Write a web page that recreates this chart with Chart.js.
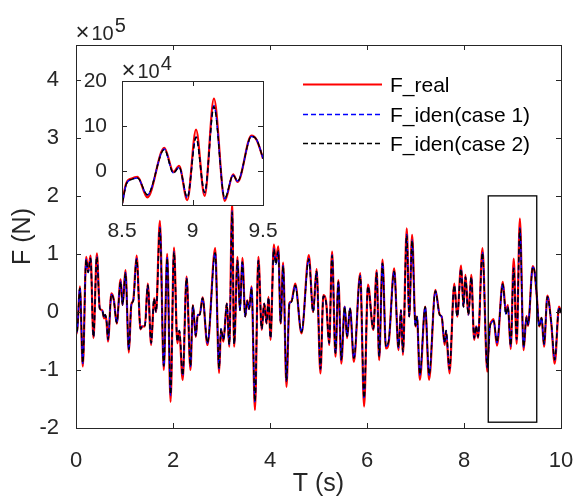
<!DOCTYPE html>
<html>
<head>
<meta charset="utf-8">
<script src="https://cdn.jsdelivr.net/npm/chart.js@4.4.0/dist/chart.umd.min.js"></script>
<style>
    body { margin: 0; background: #fff; }
    #wrap { position: relative; width: 576px; height: 497px; }
    #main { position: absolute; left: 0; top: 0; }
    #zoom { position: absolute; left: 80px; top: 50px; }
</style>
</head>
<body>
<div id="wrap">
    <canvas id="main" width="576" height="497"></canvas>
    <canvas id="zoom" width="200" height="190"></canvas>
</div>
<script>
// Tiempo (s)
const tiempo = [
    0.00, 0.02, 0.08, 0.14, 0.21, 0.25, 0.30, 0.36, 0.43, 0.49, 0.54, 0.58, 0.60, 0.63, 0.66, 0.73, 0.78, 0.84, 0.92, 0.96,
    1.02, 1.09, 1.14, 1.18, 1.25, 1.33, 1.37, 1.42, 1.48, 1.55, 1.61, 1.65, 1.73, 1.81, 1.88, 1.95, 2.02, 2.09, 2.13, 2.20,
    2.28, 2.36, 2.41, 2.47, 2.51, 2.55, 2.61, 2.71, 2.87, 2.95, 2.99, 3.04, 3.11, 3.16, 3.22, 3.26, 3.33, 3.38, 3.43, 3.49,
    3.53, 3.57, 3.62, 3.69, 3.76, 3.83, 3.88, 3.93, 3.97, 4.01, 4.08, 4.12, 4.17, 4.22, 4.27, 4.34, 4.40, 4.44, 4.52, 4.65,
    4.80, 4.89, 4.96, 5.04, 5.10, 5.16, 5.22, 5.28, 5.35, 5.41, 5.47, 5.54, 5.59, 5.65, 5.73, 5.86, 5.94, 6.02, 6.13, 6.20,
    6.25, 6.32, 6.39, 6.45, 6.56, 6.65, 6.70, 6.74, 6.82, 6.87, 6.93, 7.00, 7.03, 7.09, 7.20, 7.28, 7.41, 7.50, 7.54, 7.60,
    7.63, 7.70, 7.80, 7.86, 7.94, 7.99, 8.03, 8.09, 8.15, 8.21, 8.25, 8.29, 8.38, 8.48, 8.50, 8.53, 8.57, 8.61, 8.68, 8.80,
    8.865, 8.905, 8.963, 9.025, 9.086, 9.152, 9.229, 9.288, 9.32, 9.418, 9.455, 9.50, 9.55, 9.60, 9.65, 9.72, 9.80, 9.87, 9.96, 10.0
];

// Fuerza en unidades de 1e4 N
const fReal = [
    -1.7, -3.7, 4.4, -9.4, 9.5, 7.0, 9.7, -4.5, 10.1, 0.6, 0.3, -1.1, -0.5, -1.7, -5.1, 3.2, 2.1, -2.0, 5.6, 1.2,
    7.2, -7.0, 1.2, 2.0, 9.7, -3.0, -2.5, -2.5, 4.9, -5.7, 2.4, 0.0, 15.7, -10.0, 10.0, -15.5, 11.1, -5.4, -3.4, -11.7,
    6.1, -10.0, 1.2, -4.3, -0.5, -0.5, 2.5, -5.7, 11.0, -10.5, -3.1, -5.1, 1.5, -6.0, 18.8, -6.0, 9.5, 0.3, 9.3, -0.8,
    2.0, 0.5, 4.4, -16.9, 9.5, -3.1, 1.5, -2.0, 2.6, -4.8, 11.6, 8.7, 11.3, -2.0, 8.5, -12.9, 1.5, 1.8, 4.9, -3.7,
    9.8, 0.0, 7.4, -10.6, 2.9, 1.5, -5.7, 10.4, -7.7, 5.5, -8.9, 0.9, -4.5, 0.6, -8.6, 6.7, -16.3, 4.7, -3.1, 7.2,
    -8.3, 9.0, -6.3, -5.1, 7.5, -6.6, 0.3, -7.4, 14.4, -0.8, 13.3, -2.5, -0.8, -11.7, 0.9, -11.7, 3.8, -0.5, -0.8, -5.7,
    -3.4, -10.6, 4.9, -0.8, 8.0, 0.9, 6.4, -0.5, 6.4, -4.8, -2.5, -4.5, 11.0, -10.3, -7.2, -2.7, -1.6, -1.25, -5.8, 5.2,
    -0.15, 1.2, -6.4, 9.2, -5.5, 16.1, -6.6, -0.7, -2.4, 7.9, 6.9, 2.8, -2.5, -1.0, -6.0, 2.8, -2.0, -8.9, 0.9, -0.2
];

const fIden1 = [
    -1.7, -3.5, 4.2, -8.9, 9.1, 6.8, 9.3, -4.3, 9.6, 0.6, 0.3, -1.0, -0.5, -1.6, -4.8, 3.0, 2.0, -1.9, 5.3, 1.2,
    6.8, -6.6, 1.2, 1.9, 9.2, -2.9, -2.4, -2.4, 4.6, -5.4, 2.3, 0.0, 14.6, -9.4, 9.4, -14.4, 10.4, -5.1, -3.2, -11.0,
    5.8, -9.4, 1.1, -4.1, -0.5, -0.5, 2.4, -5.4, 10.3, -9.8, -2.9, -4.8, 1.4, -5.6, 17.4, -5.6, 8.9, 0.3, 8.7, -0.8,
    1.9, 0.5, 4.2, -15.6, 8.9, -2.9, 1.4, -1.9, 2.5, -4.5, 10.9, 8.2, 10.6, -1.9, 8.0, -12.0, 1.4, 1.7, 4.6, -3.5,
    9.2, 0.0, 7.0, -9.9, 2.7, 1.4, -5.4, 9.8, -7.2, 5.2, -8.3, 0.9, -4.2, 0.6, -8.1, 6.3, -15.0, 4.4, -2.9, 6.8,
    -7.8, 8.5, -5.9, -4.8, 7.1, -6.2, 0.3, -6.9, 13.4, -0.8, 12.4, -2.4, -0.8, -10.9, 0.9, -10.9, 3.6, -0.5, -0.8, -5.4,
    -3.2, -9.9, 4.6, -0.8, 7.5, 0.9, 6.0, -0.5, 6.0, -4.5, -2.4, -4.3, 10.3, -9.6, -7.5, -2.9, -1.8, -1.5, -5.3, 4.9,
    -0.4, 0.9, -5.9, 7.6, -4.8, 14.5, -6.1, -0.9, -2.2, 7.7, 7.0, 2.8, -2.4, -1.0, -5.6, 2.6, -1.9, -8.3, 0.8, -0.2
];

const fIden2 = [
    -1.6, -3.5, 4.1, -8.8, 9.0, 6.8, 9.2, -4.3, 9.5, 0.6, 0.3, -1.0, -0.5, -1.6, -4.7, 3.0, 2.0, -1.9, 5.2, 1.2,
    6.7, -6.5, 1.2, 1.9, 9.1, -2.9, -2.4, -2.4, 4.6, -5.3, 2.3, 0.0, 14.4, -9.3, 9.3, -14.2, 10.3, -5.1, -3.2, -10.9,
    5.8, -9.3, 1.1, -4.1, -0.5, -0.5, 2.4, -5.3, 10.2, -9.7, -2.9, -4.8, 1.4, -5.6, 17.2, -5.5, 8.8, 0.3, 8.6, -0.8,
    1.9, 0.5, 4.1, -15.4, 8.8, -2.9, 1.4, -1.9, 2.5, -4.5, 10.8, 8.2, 10.5, -1.9, 7.9, -11.9, 1.4, 1.7, 4.6, -3.5,
    9.1, 0.0, 7.0, -9.8, 2.7, 1.4, -5.3, 9.7, -7.1, 5.2, -8.2, 0.9, -4.2, 0.6, -8.0, 6.2, -14.8, 4.4, -2.9, 6.7,
    -7.7, 8.4, -5.9, -4.8, 7.0, -6.1, 0.3, -6.8, 13.2, -0.8, 12.3, -2.4, -0.8, -10.8, 0.9, -10.8, 3.6, -0.5, -0.8, -5.3,
    -3.2, -9.8, 4.6, -0.8, 7.4, 0.9, 6.0, -0.5, 6.0, -4.5, -2.4, -4.3, 10.2, -9.5, -7.5, -2.9, -1.8, -1.5, -5.2, 4.8,
    -0.4, 0.9, -5.8, 7.5, -4.7, 14.3, -6.0, -0.9, -2.2, 7.7, 7.0, 2.8, -2.4, -1.0, -5.5, 2.6, -1.9, -8.2, 0.8, -0.2
];

// Ejes y etiquetas
const xTicksMain = [0, 2, 4, 6, 8, 10];
const yTicksMain = [-20, -10, 0, 10, 20, 30, 40];   // se muestran /10 (x1e5)
const xTicksZoom = [8.5, 9, 9.5];
const yTicksZoom = [0, 10, 20];
const zoomBox = [8.5, 9.5, -19, 20];                 // x0, x1, y0, y1
const etiquetas = ['F_real', 'F_iden(case 1)', 'F_iden(case 2)'];

const GRIS = '#262626';
const FUENTE = "'Liberation Sans', Arial, Helvetica, sans-serif";
Chart.defaults.font.family = FUENTE;

function puntos(valores) {
    return tiempo.map((t, i) => ({ x: t, y: valores[i] }));
}

function crearDatasets() {
    return [
        { label: etiquetas[0], data: puntos(fReal), borderColor: '#ff0000', borderWidth: 2.2, order: 3 },
        { label: etiquetas[1], data: puntos(fIden1), borderColor: '#0000ff', borderWidth: 1.5, borderDash: [5, 3], order: 2 },
        { label: etiquetas[2], data: puntos(fIden2), borderColor: '#000000', borderWidth: 1.5, borderDash: [5, 3], borderDashOffset: 4, order: 1 }
    ].map(d => Object.assign(d, { pointRadius: 0, fill: false, cubicInterpolationMode: 'monotone' }));
}

function dibujarCaja(chart, xTicks, yTicks, largo) {
    const { ctx, chartArea: a, scales: { x, y } } = chart;
    ctx.save();
    ctx.strokeStyle = GRIS;
    ctx.lineWidth = 1;
    ctx.beginPath();
    xTicks.forEach(v => {
        const px = Math.round(x.getPixelForValue(v)) + 0.5;
        ctx.moveTo(px, a.bottom); ctx.lineTo(px, a.bottom - largo);
        ctx.moveTo(px, a.top); ctx.lineTo(px, a.top + largo);
    });
    yTicks.forEach(v => {
        const py = Math.round(y.getPixelForValue(v)) + 0.5;
        ctx.moveTo(a.left, py); ctx.lineTo(a.left + largo, py);
        ctx.moveTo(a.right, py); ctx.lineTo(a.right - largo, py);
    });
    ctx.stroke();
    ctx.strokeRect(Math.round(a.left) + 0.5, Math.round(a.top) + 0.5,
                   Math.round(a.right - a.left), Math.round(a.bottom - a.top));
    ctx.restore();
}

// Etiqueta de exponente estilo MATLAB
function dibujarExponente(ctx, x, y, exp, tam) {
    ctx.save();
    ctx.fillStyle = GRIS;
    ctx.textBaseline = 'alphabetic';
    ctx.font = `${tam + 4}px ${FUENTE}`;
    ctx.fillText('\u00d7', x, y);
    ctx.font = `${tam}px ${FUENTE}`;
    ctx.fillText('10', x + 16, y);
    const w = ctx.measureText('10').width;
    ctx.fillText(exp, x + 16 + w + 1, y - 8);
    ctx.restore();
}

const pluginMain = {
    id: 'extrasMain',
    afterDatasetsDraw(chart) {
        const { ctx, scales: { x, y } } = chart;
        // Recuadro de la zona ampliada
        const x0 = x.getPixelForValue(zoomBox[0]);
        const x1 = x.getPixelForValue(zoomBox[1]);
        const y0 = y.getPixelForValue(zoomBox[2]);
        const y1 = y.getPixelForValue(zoomBox[3]);
        ctx.save();
        ctx.strokeStyle = '#000';
        ctx.lineWidth = 1.3;
        ctx.strokeRect(x0, y1, x1 - x0, y0 - y1);
        ctx.restore();
        dibujarCaja(chart, xTicksMain, yTicksMain, 5);
    },
    afterDraw(chart) {
        const ctx = chart.ctx;
        dibujarExponente(ctx, 75.5, 39.5, '5', 20);

        // Leyenda sin caja
        const filas = [84, 114, 143];
        chart.data.datasets.forEach((d, i) => {
            const yy = filas[i] + 0.5;
            ctx.save();
            ctx.strokeStyle = d.borderColor;
            ctx.lineWidth = d.borderWidth;
            ctx.setLineDash(d.borderDash || []);
            ctx.beginPath();
            ctx.moveTo(303, yy);
            ctx.lineTo(382, yy);
            ctx.stroke();
            ctx.setLineDash([]);
            ctx.fillStyle = '#000';
            ctx.font = `21px ${FUENTE}`;
            ctx.textBaseline = 'alphabetic';
            ctx.fillText(etiquetas[i], 390, filas[i] + 8);
            ctx.restore();
        });
    }
};

const pluginZoom = {
    id: 'extrasZoom',
    beforeDraw(chart) {
        const { ctx, chartArea: a } = chart;
        ctx.save();
        ctx.fillStyle = '#fff';
        ctx.fillRect(a.left, a.top, a.right - a.left, a.bottom - a.top);
        ctx.restore();
    },
    afterDatasetsDraw(chart) {
        dibujarCaja(chart, xTicksZoom, yTicksZoom, 5);
    },
    afterDraw(chart) {
        dibujarExponente(chart.ctx, 41.5, 27.5, '4', 20);
    }
};

function escalas(cfg) {
    return {
        x: {
            type: 'linear', min: cfg.xmin, max: cfg.xmax,
            afterBuildTicks: s => { s.ticks = cfg.xTicks.map(v => ({ value: v })); },
            afterFit: s => {
                s.height = cfg.alto;
                s.paddingLeft = 0;
                s.paddingRight = 0;
            },
            grid: { display: false }, border: { display: false },
            ticks: { color: GRIS, font: { size: cfg.fuente }, padding: cfg.padX, maxRotation: 0, autoSkip: false,
                     callback: v => String(v) },
            title: cfg.tituloX ? { display: true, text: cfg.tituloX, color: GRIS, font: { size: 25, lineHeight: 1 }, padding: 0 } : { display: false }
        },
        y: {
            type: 'linear', min: cfg.ymin, max: cfg.ymax,
            afterBuildTicks: s => { s.ticks = cfg.yTicks.map(v => ({ value: v })); },
            afterFit: s => {
                s.width = cfg.ancho;
                s.paddingTop = 0;
                s.paddingBottom = 0;
            },
            grid: { display: false }, border: { display: false },
            ticks: { color: GRIS, font: { size: cfg.fuente }, padding: cfg.padY, autoSkip: false, callback: cfg.formatoY },
            title: cfg.tituloY ? { display: true, text: cfg.tituloY, color: GRIS, font: { size: 25, lineHeight: 1 }, padding: { top: 11, bottom: 0 } } : { display: false }
        }
    };
}

const opcionesBase = {
    responsive: false,
    animation: false,
    devicePixelRatio: 1,
    events: [],
    plugins: { legend: { display: false }, tooltip: { enabled: false } }
};

new Chart(document.getElementById('main'), {
    type: 'line',
    data: { datasets: crearDatasets() },
    options: Object.assign({}, opcionesBase, {
        layout: { padding: { left: 0, top: 45, right: 15, bottom: 0 } },
        scales: escalas({
            xmin: 0, xmax: 10, ymin: -20, ymax: 46,
            xTicks: xTicksMain, yTicks: yTicksMain,
            alto: 69, ancho: 76, fuente: 22, padX: 12, padY: 9,
            formatoY: v => String(v / 10),
            tituloX: 'T (s)', tituloY: 'F (N)'
        })
    }),
    plugins: [pluginMain]
});

new Chart(document.getElementById('zoom'), {
    type: 'line',
    data: { datasets: crearDatasets() },
    options: Object.assign({}, opcionesBase, {
        layout: { padding: { left: 0, top: 31, right: 17, bottom: 0 } },
        scales: escalas({
            xmin: 8.5, xmax: 9.5, ymin: -7.5, ymax: 20,
            xTicks: xTicksZoom, yTicks: yTicksZoom,
            alto: 35, ancho: 42, fuente: 21, padX: 6, padY: 7,
            formatoY: v => String(v)
        })
    }),
    plugins: [pluginZoom]
});
</script>
</body>
</html>
